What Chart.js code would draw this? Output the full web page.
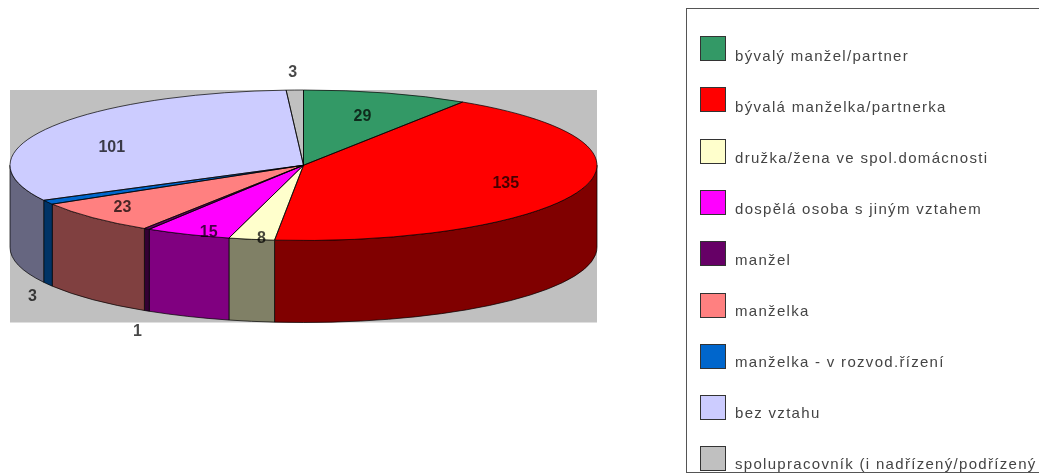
<!DOCTYPE html>
<html>
<head>
<meta charset="utf-8">
<title>Pie</title>
<script src="https://cdn.jsdelivr.net/npm/chart.js@4"></script>
<style>
  body { margin: 0; background: #fff; overflow: hidden; }
  #wrap { position: relative; width: 1039px; height: 476px; overflow: hidden; }
  #chart { position: absolute; left: 0; top: 0; filter: blur(0.7px); }
  #legend { position: absolute; left: 686px; top: 8px; width: 360px; height: 463px; border: 1px solid #555;
    overflow: hidden; font: 15px "Liberation Sans", Arial, sans-serif; color: #444; filter: blur(0.6px); }
  .sw { position: absolute; left: 13px; width: 24px; height: 23px; border: 1px solid #333; }
  .tx { position: absolute; left: 48px; white-space: nowrap; letter-spacing: 1.3px; }
</style>
</head>
<body>
<div id="wrap">
  <canvas id="chart" width="1039" height="476"></canvas>
  <div id="legend"></div>
</div>
<script>
// Values in pie order, clockwise from the top
var categories = [
  "bývalý manžel/partner",
  "bývalá manželka/partnerka",
  "družka/žena ve spol.domácnosti",
  "dospělá osoba s jiným vztahem",
  "manžel",
  "manželka",
  "manželka - v rozvod.řízení",
  "bez vztahu",
  "spolupracovník (i nadřízený/podřízený"
];
var values = [29, 135, 8, 15, 1, 23, 3, 101, 3];
var topColors = ["#339966", "#ff0000", "#ffffcc", "#ff00ff", "#660066", "#ff8080", "#0066cc", "#ccccff", "#c0c0c0"];
var wallColors = ["#1a4d33", "#800000", "#808066", "#800080", "#330033", "#804040", "#003366", "#666680", "#606060"];

// Where the value labels sit, as a share of the ellipse radius
var labelReachX = [0.71, 0.73, 0.81, 0.82, 1.06, 0.86, 1.06, 0.75, 1.25];
var labelReachY = [0.70, 0.67, 0.97, 0.95, 1.30, 0.78, 1.29, 0.53, 1.25];
var labelOnWall = [false, false, false, false, true, false, true, false, false];

var depth = 82;

function squash(ctx, chart, arc) {
  var area = chart.chartArea;
  ctx.translate(arc.x, arc.y);
  ctx.scale(area.width / 2 / arc.outerRadius, 1);
}

var pie3d = {
  id: "pie3d",
  beforeDatasetsDraw: function(chart) {
    var ctx = chart.ctx;
    var area = chart.chartArea;
    var arcs = chart.getDatasetMeta(0).data;

    // plot background
    ctx.fillStyle = "#c0c0c0";
    ctx.fillRect(area.left, area.top, area.width, area.height + depth);

    // side walls, only the front half of the ellipse shows
    arcs.forEach(function(arc, i) {
      var a = Math.max(arc.startAngle, 0);
      var b = Math.min(arc.endAngle, Math.PI);
      if (b <= a) return;
      ctx.save();
      squash(ctx, chart, arc);
      ctx.beginPath();
      ctx.arc(0, 0, arc.outerRadius, a, b);
      ctx.arc(0, depth, arc.outerRadius, b, a, true);
      ctx.closePath();
      ctx.restore();
      ctx.fillStyle = wallColors[i];
      ctx.fill();
      ctx.strokeStyle = "rgba(0,0,0,0.7)";
      ctx.lineWidth = 1;
      ctx.stroke();
    });

    // the library draws the top face through this transform
    ctx.save();
    squash(ctx, chart, arcs[0]);
    ctx.translate(-arcs[0].x, -arcs[0].y);
  },
  afterDatasetsDraw: function(chart) {
    var ctx = chart.ctx;
    var arcs = chart.getDatasetMeta(0).data;
    ctx.restore();

    // outlines on top face
    arcs.forEach(function(arc) {
      ctx.save();
      squash(ctx, chart, arc);
      ctx.beginPath();
      ctx.moveTo(0, 0);
      ctx.arc(0, 0, arc.outerRadius, arc.startAngle, arc.endAngle);
      ctx.closePath();
      ctx.restore();
      ctx.strokeStyle = "rgba(0,0,0,0.7)";
      ctx.lineWidth = 1;
      ctx.stroke();
    });

    // value labels
    ctx.font = "bold 16px 'Liberation Sans', Arial, sans-serif";
    ctx.textAlign = "center";
    ctx.textBaseline = "middle";
    ctx.fillStyle = "rgba(0,0,0,0.72)";
    var area = chart.chartArea;
    arcs.forEach(function(arc, i) {
      var mid = (arc.startAngle + arc.endAngle) / 2;
      var x = arc.x + Math.cos(mid) * area.width / 2 * labelReachX[i];
      var y = arc.y + Math.sin(mid) * arc.outerRadius * labelReachY[i] + 1.5;
      if (labelOnWall[i]) y += depth;
      ctx.fillText(String(values[i]), x, y);
    });
  }
};

new Chart(document.getElementById("chart"), {
  type: "pie",
  data: {
    labels: categories,
    datasets: [{
      data: values,
      backgroundColor: topColors,
      borderWidth: 0,
      clip: false
    }]
  },
  options: {
    responsive: false,
    animation: false,
    devicePixelRatio: 1,
    events: [],
    layout: { padding: { left: 10, right: 442, top: 90, bottom: 235.5 } },
    plugins: { legend: { display: false }, tooltip: { enabled: false } }
  },
  plugins: [pie3d]
});

// Legend box is cut off by its frame at the bottom, like the original
var legend = document.getElementById("legend");
categories.forEach(function(name, i) {
  var sw = document.createElement("div");
  sw.className = "sw";
  sw.style.top = (27 + i * 51.3) + "px";
  sw.style.background = topColors[i];
  legend.appendChild(sw);
  var tx = document.createElement("div");
  tx.className = "tx";
  tx.style.top = (37.5 + i * 51.1) + "px";
  tx.textContent = name;
  legend.appendChild(tx);
});
</script>
</body>
</html>
